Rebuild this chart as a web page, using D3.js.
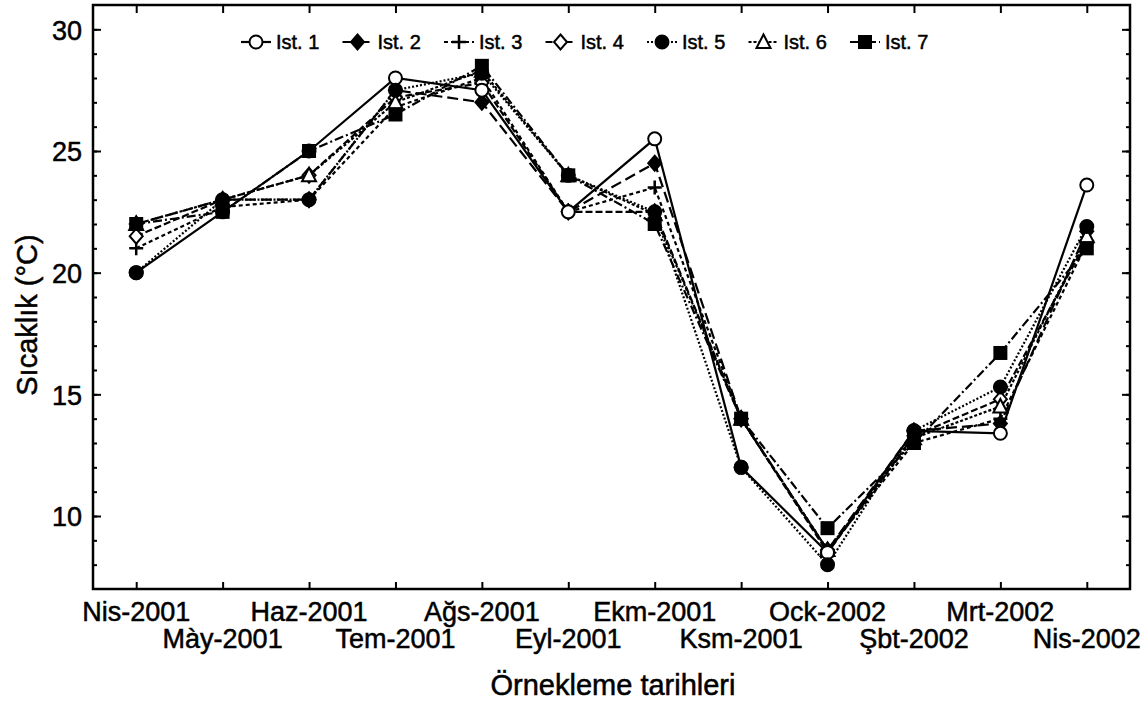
<!DOCTYPE html>
<html>
<head>
<meta charset="utf-8">
<script src="https://cdn.jsdelivr.net/npm/d3@7"></script>
<style>
  body { margin: 0; background: #fff; }
  svg text { font-family: "Liberation Sans", Arial, sans-serif; fill: #000; stroke: #000; stroke-width: 0.5px; }
</style>
</head>
<body>
<div id="chart"></div>
<script>
// sampling dates (x categories)
const dates = ["Nis-2001", "Mày-2001", "Haz-2001", "Tem-2001", "Ağs-2001", "Eyl-2001",
               "Ekm-2001", "Ksm-2001", "Ock-2002", "Şbt-2002", "Mrt-2002", "Nis-2002"];

// temperature per station (°C)
const ist1 = [20.0, 22.5, 25.0, 28.0, 27.5, 22.5, 25.5, 12.0, 8.5, 13.5, 13.4, 23.6];
const ist2 = [22.0, 23.0, 23.0, 27.5, 27.0, 22.5, 24.5, 14.0, 8.6, 13.5, 13.8, 21.7];
const ist3 = [21.0, 22.7, 23.0, 26.8, 28.0, 22.5, 23.5, 14.0, 8.6, 13.0, 14.0, 21.2];
const ist4 = [21.5, 23.0, 24.0, 27.2, 27.8, 22.5, 22.5, 14.0, 8.5, 13.3, 14.8, 21.3];
const ist5 = [20.0, 23.0, 23.0, 27.5, 28.2, 24.0, 22.5, 12.0, 8.0, 13.5, 15.3, 21.9];
const ist6 = [22.0, 23.0, 24.0, 27.0, 28.3, 24.0, 22.4, 14.0, 8.6, 13.2, 14.5, 21.5];
const ist7 = [22.0, 22.5, 25.0, 26.5, 28.5, 24.0, 22.0, 14.0, 9.5, 13.0, 16.7, 21.0];

const seriesNames = ["Ist. 1", "Ist. 2", "Ist. 3", "Ist. 4", "Ist. 5", "Ist. 6", "Ist. 7"];
const seriesValues = [ist1, ist2, ist3, ist4, ist5, ist6, ist7];

const yTicks = [10, 15, 20, 25, 30];

// drawing style for each station: marker + dash pattern
const styles = [
  {marker: "circle",   fill: "#fff", dash: null},
  {marker: "diamond",  fill: "#000", dash: "11,5"},
  {marker: "plus",     fill: "#000", dash: "4,3"},
  {marker: "diamond",  fill: "#fff", dash: "7,3"},
  {marker: "circle",   fill: "#000", dash: "2,2"},
  {marker: "triangle", fill: "#fff", dash: "3,2"},
  {marker: "square",   fill: "#000", dash: "9,3,2,3"}
];

// order in which the marker layers are stacked (last on top)
const markerOrder = [1, 2, 3, 5, 0, 4, 6];

const width = 1148, height = 702;
const plot = {left: 93, right: 1130, top: 5, bottom: 589};

const svg = d3.select("#chart").append("svg")
  .attr("width", width)
  .attr("height", height);

const x = d3.scalePoint()
  .domain(dates)
  .range([plot.left, plot.right])
  .padding(0.5);

const y = d3.scaleLinear()
  .domain([7, 31])
  .range([plot.bottom, plot.top]);

// frame
svg.append("rect")
  .attr("x", plot.left)
  .attr("y", plot.top)
  .attr("width", plot.right - plot.left)
  .attr("height", plot.bottom - plot.top)
  .style("fill", "none")
  .style("stroke", "#000")
  .style("stroke-width", 2.5);

// axes (ticks point inward, like the original)
const minor = d3.range(8, 31);

const leftAxis = svg.append("g").attr("transform", `translate(${plot.left},0)`);
leftAxis.call(d3.axisLeft(y).tickValues(minor).tickSize(-4).tickFormat(""));
leftAxis.call(g => g.append("g").call(d3.axisLeft(y).tickValues(yTicks).tickSize(-8).tickPadding(11)));

const rightAxis = svg.append("g").attr("transform", `translate(${plot.right},0)`);
rightAxis.call(d3.axisRight(y).tickValues(minor).tickSize(-4).tickFormat(""));
rightAxis.call(g => g.append("g").call(d3.axisRight(y).tickValues(yTicks).tickSize(-8).tickFormat("")));

svg.append("g")
  .attr("transform", `translate(0,${plot.bottom})`)
  .call(d3.axisBottom(x).tickSize(-7).tickFormat(""));
svg.append("g")
  .attr("transform", `translate(0,${plot.top})`)
  .call(d3.axisTop(x).tickSize(-8).tickFormat(""));

svg.selectAll(".domain").remove();
svg.selectAll(".tick line").style("stroke", "#000").style("stroke-width", 2);
leftAxis.selectAll("text")
  .style("font-size", "27px")
  .attr("x", -11)
  .attr("dy", "0.36em");

// staggered date labels
svg.append("g").selectAll("text")
  .data(dates)
  .enter()
  .append("text")
  .attr("x", d => x(d))
  .attr("y", (d, i) => i % 2 === 0 ? 621 : 648)
  .attr("text-anchor", "middle")
  .style("font-size", "27px")
  .text(d => d);

// axis titles
svg.append("text")
  .attr("x", 613)
  .attr("y", 695)
  .attr("text-anchor", "middle")
  .style("font-size", "29px")
  .text("Örnekleme tarihleri");

svg.append("text")
  .attr("transform", "translate(37,315) rotate(-90)")
  .attr("text-anchor", "middle")
  .style("font-size", "29px")
  .text("Sıcaklık (°C)");

// marker drawing helper
function drawMarker(sel, st) {
  if (st.marker === "circle") {
    sel.append("circle").attr("r", 6.5)
      .style("fill", st.fill).style("stroke", "#000").style("stroke-width", 2);
  } else if (st.marker === "square") {
    sel.append("rect").attr("x", -7).attr("y", -7).attr("width", 14).attr("height", 14)
      .style("fill", "#000");
  } else if (st.marker === "diamond") {
    sel.append("path").attr("d", "M0,-7.5L6.5,0L0,7.5L-6.5,0Z")
      .style("fill", st.fill).style("stroke", "#000").style("stroke-width", 2);
  } else if (st.marker === "triangle") {
    sel.append("path").attr("d", "M0,-7.5L7,6L-7,6Z")
      .style("fill", st.fill).style("stroke", "#000").style("stroke-width", 2);
  } else if (st.marker === "plus") {
    sel.append("path").attr("d", "M-7,0H7M0,-7V7")
      .style("stroke", "#000").style("stroke-width", 2.5);
  }
}

const line = d3.line()
  .x((d, i) => x(dates[i]))
  .y(d => y(d));

// lines first, then markers on top
seriesValues.forEach((vals, s) => {
  svg.append("path")
    .datum(vals)
    .attr("d", line)
    .style("fill", "none")
    .style("stroke", "#000")
    .style("stroke-width", 2.2)
    .style("stroke-dasharray", styles[s].dash);
});

markerOrder.forEach(s => {
  svg.append("g").selectAll("g")
    .data(seriesValues[s])
    .enter()
    .append("g")
    .attr("transform", (d, i) => `translate(${x(dates[i])},${y(d)})`)
    .each(function() { drawMarker(d3.select(this), styles[s]); });
});

// legend row
const legend = svg.append("g").attr("transform", "translate(256,42)");
const legendItems = legend.selectAll("g")
  .data(seriesNames)
  .enter()
  .append("g")
  .attr("transform", (d, i) => `translate(${i * 101.5},0)`);

legendItems.append("line")
  .attr("x1", -15).attr("x2", 15)
  .style("stroke", "#000")
  .style("stroke-width", 2.2)
  .style("stroke-dasharray", (d, i) => styles[i].dash);

legendItems.each(function(d, i) { drawMarker(d3.select(this), styles[i]); });

legendItems.append("text")
  .attr("x", 20)
  .attr("dy", "0.36em")
  .style("font-size", "20px")
  .text(d => d);
</script>
</body>
</html>
